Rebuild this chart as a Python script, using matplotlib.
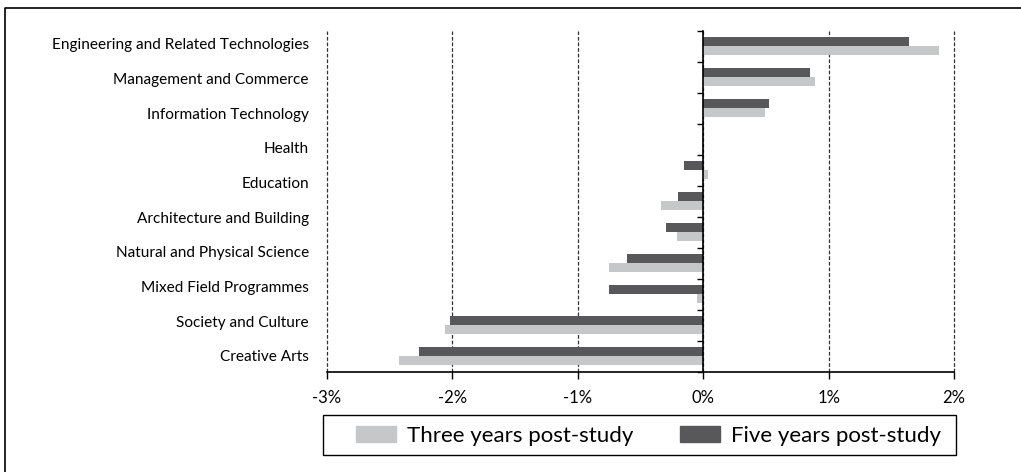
import numpy as np
import matplotlib
matplotlib.use('Agg')
import matplotlib.pyplot as plt
from matplotlib.patches import Rectangle
from matplotlib.lines import Line2D

plt.rcParams['font.family'] = ['Lato', 'DejaVu Sans']

# field of education labels (top to bottom)
categories = ['Engineering and Related Technologies', 'Management and Commerce',
              'Information Technology', 'Health', 'Education',
              'Architecture and Building', 'Natural and Physical Science',
              'Mixed Field Programmes', 'Society and Culture', 'Creative Arts']

# bar rows as drawn in the source chart (11 rows, one left empty)
three_years = [1.88, 0.89, 0.49, 0.0, 0.04, -0.335, -0.207, -0.755, -0.048, -2.057, -2.424]
five_years = [1.64, 0.853, 0.526, 0.0, -0.152, -0.197, -0.295, -0.606, -0.75, -2.018, -2.27]

xticks = [-3, -2, -1, 0, 1, 2]
xtick_labels = ['-3%', '-2%', '-1%', '0%', '1%', '2%']

light = '#c6c7c9'
dark = '#58585a'

fig = plt.figure(figsize=(10.21, 4.72), dpi=100)
ax = fig.add_axes([327/1021, 1-371.7/472, 627/1021, 341/472])

rows = np.arange(len(three_years))
h = 0.29
ax.barh(rows - h/2, five_years, height=h, color=dark, zorder=3)
ax.barh(rows + h/2, three_years, height=h, color=light, zorder=3)

ax.set_xlim(-3, 2)
ax.set_ylim(len(rows) - 0.5, -0.5)
ax.set_xticks(xticks)
ax.set_xticklabels(xtick_labels, fontsize=12)
ax.tick_params(axis='x', direction='out', length=5, width=1, pad=8, color='black')
ax.xaxis.grid(True, linestyle=(0, (3, 1.5)), color='#333333', linewidth=0.9, zorder=0)
for gl in ax.get_xgridlines():
    gl.set_clip_on(False)
ax.set_axisbelow(True)

ax.spines['top'].set_visible(False)
ax.spines['right'].set_visible(False)
ax.spines['left'].set_position(('data', 0))
ax.spines['left'].set_zorder(4)
ax.spines['bottom'].set_linewidth(1.2)
ax.spines['left'].set_linewidth(1.2)
ax.set_yticks(np.arange(-0.5, len(rows) + 0.5, 1))
ax.set_yticklabels([])
ax.tick_params(axis='y', direction='out', length=4, width=1)

# category labels on their own evenly spaced scale
ax2 = ax.twinx()
ax2.set_ylim(9.462, -0.384)
ax2.set_yticks(range(len(categories)))
ax2.set_yticklabels(categories, fontsize=11.1)
ax2.yaxis.tick_left()
ax2.tick_params(axis='y', length=0, pad=13)
for s in ax2.spines.values():
    s.set_visible(False)

handles = [Rectangle((0, 0), 1, 1, color=light), Rectangle((0, 0), 1, 1, color=dark)]
leg = fig.legend(handles, ['Three years post-study', 'Five years post-study'],
                 loc='center left', bbox_to_anchor=(356/1021, 1-436/472), ncol=2,
                 fontsize=16, frameon=False, handlelength=1.8, handleheight=0.72,
                 columnspacing=2.1, handletextpad=0.5, borderpad=0, borderaxespad=0)

# legend box
fig.patches.append(Rectangle((323/1021, 1-455/472), 633/1021, 40/472, transform=fig.transFigure,
                             fill=False, edgecolor='black', linewidth=1.0))
# outer frame (only top and left edges fall inside the picture)
fig.lines.append(Line2D([5/1021, 5/1021, 1], [0, 1-8/472, 1-8/472], transform=fig.transFigure,
                        color='black', linewidth=1.2))

fig.savefig('out.png', dpi=100)
